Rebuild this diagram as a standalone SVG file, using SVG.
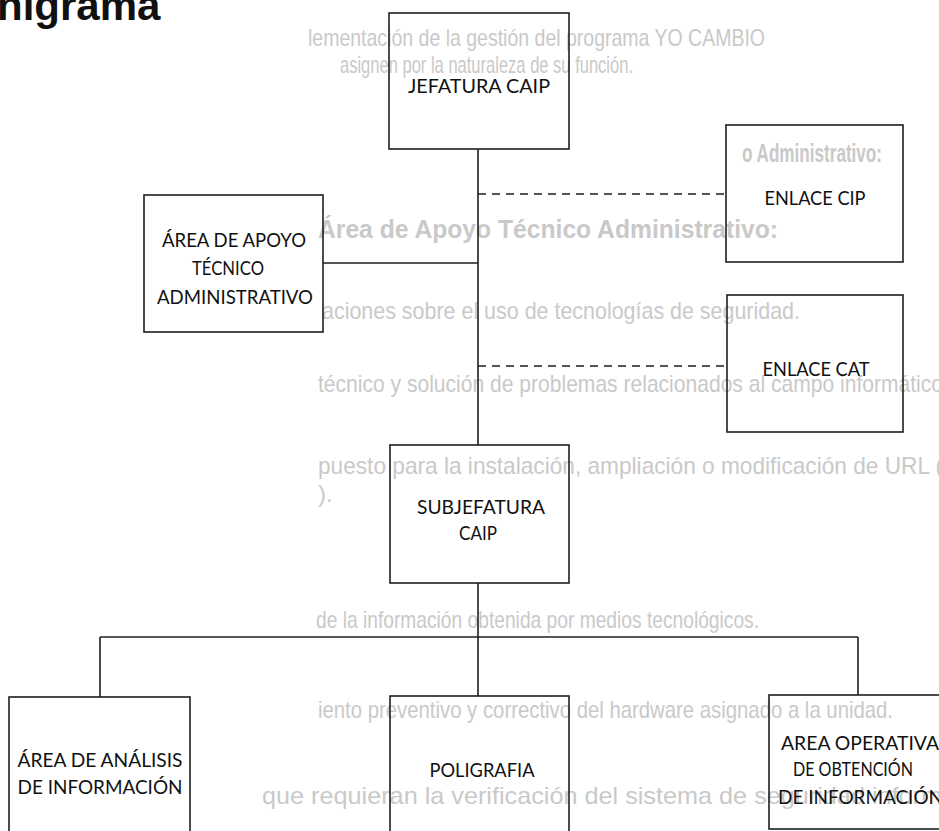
<svg xmlns="http://www.w3.org/2000/svg" width="939" height="831" viewBox="0 0 939 831">
  <style>
    .bg { font-family: "Liberation Sans", Arial, sans-serif; font-size: 24px; fill: #c9c9c9; }
    .bgb { font-family: "Liberation Sans", Arial, sans-serif; font-size: 25px; font-weight: bold; fill: #c9c9c9; }
    .box { fill: none; stroke: #1e1e1e; stroke-width: 1.6; }
    .lbl { font-family: Lato, "Open Sans", sans-serif; font-size: 19px; fill: #111; text-anchor: middle; }
    .lbls { font-family: Lato, "Open Sans", sans-serif; font-size: 19px; fill: #111; }
    .ln { stroke: #1e1e1e; stroke-width: 1.6; fill: none; }
    .dash { stroke: #1e1e1e; stroke-width: 1.6; fill: none; stroke-dasharray: 8 6; }
  </style>
  <rect width="939" height="831" fill="#ffffff"/>

  <g id="background-text">
    <text class="bg" x="308" y="46" textLength="457" lengthAdjust="spacingAndGlyphs">lementación de la gestión del programa YO CAMBIO</text>
    <text class="bg" x="340" y="73" textLength="293" lengthAdjust="spacingAndGlyphs">asignen por la naturaleza de su función.</text>
    <text class="bgb" x="742" y="162" textLength="140" lengthAdjust="spacingAndGlyphs">o Administrativo:</text>
    <text class="bgb" x="318" y="238" textLength="460" lengthAdjust="spacingAndGlyphs">Área de Apoyo Técnico Administrativo:</text>
    <text class="bg" x="322" y="319" textLength="478" lengthAdjust="spacingAndGlyphs">aciones sobre el uso de tecnologías de seguridad.</text>
    <text class="bg" x="318" y="392" textLength="625" lengthAdjust="spacingAndGlyphs">técnico y solución de problemas relacionados al campo informático</text>
    <text class="bg" x="318" y="474" textLength="625" lengthAdjust="spacingAndGlyphs">puesto para la instalación, ampliación o modificación de URL (</text>
    <text class="bg" x="318" y="502">).</text>
    <text class="bg" x="316" y="628" textLength="443" lengthAdjust="spacingAndGlyphs">de la información obtenida por medios tecnológicos.</text>
    <text class="bg" x="318" y="718" textLength="575" lengthAdjust="spacingAndGlyphs">iento preventivo y correctivo del hardware asignado a la unidad.</text>
    <text class="bg" x="262" y="804" textLength="680" lengthAdjust="spacingAndGlyphs">que requieran la verificación del sistema de seguridad inform</text>
  </g>

  <text id="title" x="-3" y="20" font-family="'Liberation Sans', Arial, sans-serif" font-size="42" font-weight="bold" fill="#111">nigrama</text>

  <g id="connectors">
    <path class="ln" d="M478,149 V445"/>
    <path class="dash" d="M478,194 H726"/>
    <path class="ln" d="M323,263 H478"/>
    <path class="dash" d="M478,366 H727"/>
    <path class="ln" d="M478,583 V696"/>
    <path class="ln" d="M100,637 H858"/>
    <path class="ln" d="M100,637 V697"/>
    <path class="ln" d="M858,637 V695"/>
  </g>

  <g id="jefatura">
    <rect class="box" x="389" y="13" width="180" height="136"/>
    <text class="lbl" x="479" y="93" textLength="142" lengthAdjust="spacingAndGlyphs">JEFATURA CAIP</text>
  </g>
  <g id="enlace-cip">
    <rect class="box" x="726" y="125" width="177" height="137"/>
    <text class="lbl" x="815" y="205" textLength="101" lengthAdjust="spacingAndGlyphs">ENLACE CIP</text>
  </g>
  <g id="area-apoyo">
    <rect class="box" x="144" y="195" width="179" height="137"/>
    <text class="lbl" x="234" y="247" textLength="144" lengthAdjust="spacingAndGlyphs">ÁREA DE APOYO</text>
    <text class="lbl" x="228" y="275" textLength="72" lengthAdjust="spacingAndGlyphs">TÉCNICO</text>
    <text class="lbl" x="235" y="304" textLength="156" lengthAdjust="spacingAndGlyphs">ADMINISTRATIVO</text>
  </g>
  <g id="enlace-cat">
    <rect class="box" x="727" y="295" width="176" height="137"/>
    <text class="lbl" x="816" y="376" textLength="107" lengthAdjust="spacingAndGlyphs">ENLACE CAT</text>
  </g>
  <g id="subjefatura">
    <rect class="box" x="390" y="445" width="179" height="138"/>
    <text class="lbl" x="481" y="514" textLength="128" lengthAdjust="spacingAndGlyphs">SUBJEFATURA</text>
    <text class="lbl" x="478" y="540" textLength="38" lengthAdjust="spacingAndGlyphs">CAIP</text>
  </g>
  <g id="area-analisis">
    <rect class="box" x="9" y="697" width="181" height="150"/>
    <text class="lbl" x="100" y="767" textLength="165" lengthAdjust="spacingAndGlyphs">ÁREA DE ANÁLISIS</text>
    <text class="lbl" x="100" y="794" textLength="165" lengthAdjust="spacingAndGlyphs">DE INFORMACIÓN</text>
  </g>
  <g id="poligrafia">
    <rect class="box" x="390" y="696" width="179" height="150"/>
    <text class="lbl" x="482" y="777" textLength="105" lengthAdjust="spacingAndGlyphs">POLIGRAFIA</text>
  </g>
  <g id="area-operativa">
    <rect class="box" x="769" y="695" width="180" height="134"/>
    <text class="lbls" x="781" y="750" textLength="158" lengthAdjust="spacingAndGlyphs">AREA OPERATIVA</text>
    <text class="lbls" x="793" y="776" textLength="120" lengthAdjust="spacingAndGlyphs">DE OBTENCIÓN</text>
    <text class="lbls" x="778" y="804" textLength="165" lengthAdjust="spacingAndGlyphs">DE INFORMACIÓN</text>
  </g>
</svg>
